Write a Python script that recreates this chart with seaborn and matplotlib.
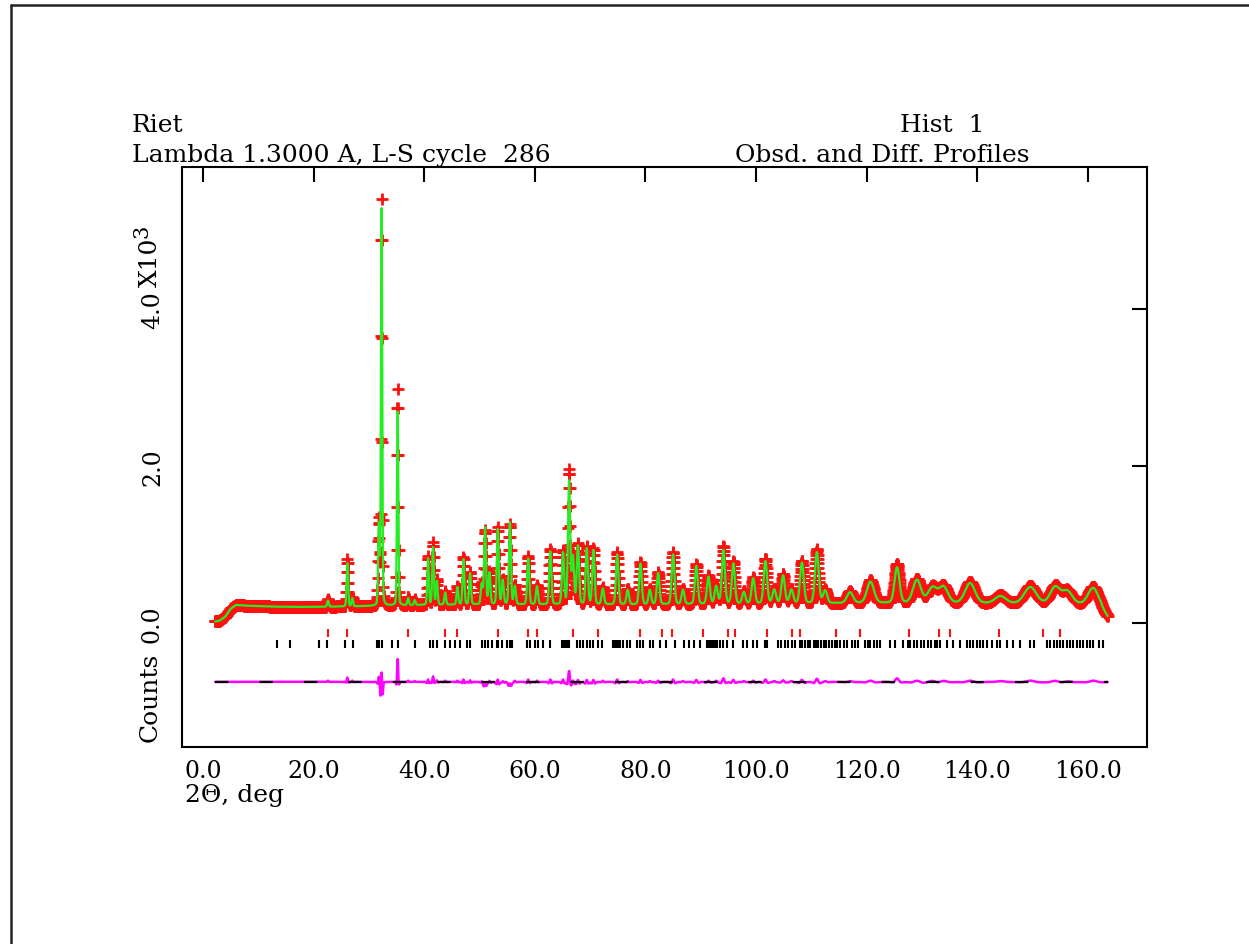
import numpy as np
import pandas as pd
import matplotlib
matplotlib.use("Agg")
import matplotlib.pyplot as plt
import seaborn as sns

# ---------------------------------------------------------------------------
# Histogram 1 : observed / calculated powder profile (counts vs 2-theta)
# ---------------------------------------------------------------------------

# Background level (2-theta in deg, counts)
bg_tth = [2.2, 3.0, 4.0, 5.0, 6.0, 8.0, 12.0, 16.0, 20.0, 25.0, 30.0, 40.0,
          50.0, 60.0, 70.0, 80.0, 90.0, 100.0, 110.0, 120.0, 130.0, 140.0,
          150.0, 160.0, 162.3, 163.6]
bg_cts = [20, 30, 80, 180, 230, 220, 210, 205, 205, 210, 215, 230,
          235, 235, 235, 235, 240, 245, 250, 255, 255, 250,
          245, 240, 200, 80]

# Reflections: position, observed and calculated top counts, FWHM (deg)
peak_tth = [22.6, 26.1, 27.0, 31.8, 32.3, 35.2, 37.1, 38.3, 40.7, 41.6,
            42.3, 43.8, 46.0, 47.1, 48.3, 50.4, 51.0, 51.8, 53.3, 54.2,
            55.5, 56.4, 58.8, 60.4, 62.8, 65.1, 66.2, 66.9, 67.8, 69.4,
            70.6, 72.3, 74.9, 76.8, 79.1, 80.8, 82.3, 85.0, 86.8, 89.2,
            91.4, 92.8, 94.1, 95.9, 97.8, 99.5, 101.7, 103.3, 104.9, 106.4,
            108.3, 111.0, 112.5, 117.0, 120.7, 125.5, 129.1, 131.9, 133.9,
            138.7, 144.2, 149.6, 154.1, 156.3, 161.0]
peak_obs = [300, 815, 330, 1300, 5390, 2980, 330, 300, 850, 1030,
            550, 400, 470, 840, 650, 500, 1180, 650, 1220, 550,
            1260, 480, 850, 480, 940, 920, 1940, 850, 1000, 970,
            950, 450, 900, 430, 780, 430, 650, 900, 430, 750,
            600, 480, 970, 780, 400, 580, 815, 430, 620, 430,
            790, 940, 420, 400, 540, 750, 560, 460, 470,
            520, 350, 470, 470, 410, 460]
peak_calc = [285, 760, 315, 1230, 5270, 2690, 315, 290, 820, 960,
             530, 385, 455, 810, 630, 490, 1210, 635, 1190, 540,
             1280, 465, 820, 465, 910, 890, 1800, 830, 975, 945,
             925, 435, 870, 420, 755, 420, 635, 870, 420, 725,
             585, 465, 925, 755, 390, 565, 785, 420, 600, 420,
             765, 900, 410, 390, 525, 705, 545, 445, 455,
             505, 340, 455, 455, 400, 445]
peak_fwhm = [0.30, 0.30, 0.30, 0.30, 0.26, 0.28, 0.30, 0.30, 0.32, 0.32,
             0.32, 0.34, 0.34, 0.36, 0.36, 0.38, 0.38, 0.38, 0.38, 0.40,
             0.40, 0.40, 0.42, 0.42, 0.44, 0.44, 0.44, 0.44, 0.46, 0.46,
             0.46, 0.48, 0.50, 0.50, 0.52, 0.52, 0.54, 0.56, 0.56, 0.58,
             0.60, 0.60, 0.62, 0.62, 0.64, 0.66, 0.68, 0.70, 0.70, 0.72,
             0.74, 0.76, 0.80, 1.2, 1.4, 1.0, 1.6, 1.8, 1.8,
             2.0, 2.2, 2.4, 2.0, 2.0, 2.0]

# Reflection markers for the two phases (2-theta, deg)
phase1_tth = [22.6, 26.1, 37.1, 43.8, 46.0, 53.3, 58.8, 60.4, 66.9, 71.5,
              79.1, 83.0, 84.8, 90.5, 95.0, 96.2, 102.0, 106.5, 108.0, 114.4,
              118.8, 127.7, 133.1, 135.1, 144.0, 151.9, 155.0]
phase2_tth = [13.3, 15.7, 20.9, 22.4, 25.7, 27.2, 31.4, 31.9, 32.4, 34.1,
              35.3, 38.3, 41.0, 41.6, 42.3, 43.8, 44.7, 45.6, 46.5, 47.7,
              48.3, 50.4, 51.0, 51.6, 52.2, 53.1, 53.4, 54.0, 54.9, 55.5,
              55.8, 58.5, 59.1, 60.0, 60.6, 61.5, 62.7, 64.9, 65.2, 65.5,
              65.8, 66.1, 67.6, 68.2, 68.8, 69.4, 70.0, 70.6, 71.5, 72.1,
              74.2, 74.5, 74.8, 75.1, 75.4, 76.0, 76.6, 77.2, 78.4, 79.0,
              79.6, 80.8, 81.4, 82.6, 83.8, 85.4, 86.9, 87.8, 88.7, 89.9,
              91.1, 91.4, 91.7, 92.0, 92.3, 92.6, 92.9, 93.5, 94.1, 94.7,
              95.9, 97.7, 98.3, 99.5, 100.1, 101.6, 101.9, 104.0, 104.6, 105.2,
              105.8, 106.5, 107.1, 108.0, 108.4, 108.9, 109.4, 109.8, 110.4, 110.9,
              111.3, 111.8, 112.3, 112.7, 113.2, 113.7, 114.2, 114.7, 115.2, 116.0,
              116.4, 117.3, 117.9, 118.5, 119.7, 120.2, 120.7, 121.3, 121.8, 122.4,
              124.2, 125.1, 126.6, 127.4, 127.9, 128.5, 129.2, 129.8, 130.4, 131.1,
              131.7, 132.3, 132.8, 133.3, 134.5, 135.7, 136.9, 138.1, 138.7, 139.3,
              139.9, 140.5, 141.1, 141.7, 142.6, 143.5, 144.1, 145.3, 146.5, 147.7,
              149.6, 150.2, 152.6, 153.2, 153.8, 154.4, 155.0, 155.6, 156.2, 156.8,
              157.4, 158.0, 158.6, 159.2, 159.8, 160.4, 161.0, 162.0, 162.8]

# ---------------------------------------------------------------------------
# Profile construction on the measurement grid
# ---------------------------------------------------------------------------
STEP = 0.05
CALC_WIDTH = 1.06          # refined peak widths come out slightly broader
tth = np.arange(2.2, 163.6 + STEP / 2, STEP)
background = np.interp(tth, bg_tth, bg_cts)


def profile(tops, width_scale=1.0):
    """Sum of pseudo-Voigt reflections on top of the background."""
    y = background.copy()
    for pos, top, fw in zip(peak_tth, tops, peak_fwhm):
        amp = top - np.interp(pos, bg_tth, bg_cts)
        d = (tth - pos) / (fw * width_scale / 2.0)
        gauss = np.exp(-np.log(2.0) * d ** 2)
        lorentz = 1.0 / (1.0 + d ** 2)
        y += amp * (0.85 * gauss + 0.15 * lorentz)
    return y


obs = profile(peak_obs)
calc = profile(peak_calc, CALC_WIDTH)

DIFF_OFFSET = -750.0
df = pd.DataFrame({
    "tth": tth,
    "obs": obs / 1000.0,
    "calc": calc / 1000.0,
    "diff": (obs - calc + DIFF_OFFSET) / 1000.0,
})

# ---------------------------------------------------------------------------
# Figure
# ---------------------------------------------------------------------------
sns.set_theme(style="white")
plt.rcParams["font.family"] = ["DejaVu Serif"]
FS = 18        # header / caption text
FS_TICK = 17   # tick labels

W, H = 1249, 945
fig = plt.figure(figsize=(W / 100, H / 100), dpi=100)
fig.patch.set_facecolor("white")

L, R, T, B = 182, 1147, 168, 748
ax = fig.add_axes([L / W, 1 - B / H, (R - L) / W, (B - T) / H])
ax.set_facecolor("white")

x0_px, px_per_deg = 203.0, 5.53
ax.set_xlim((L - x0_px) / px_per_deg, (R - x0_px) / px_per_deg)
ax.set_ylim(-1.58, 5.81)

RED = "#ff1010"
GREEN = "#22ee22"
MAGENTA = "#ff00ff"

sns.scatterplot(data=df, x="tth", y="obs", ax=ax, marker="+", s=75,
                color=RED, linewidth=2.0, legend=False, zorder=2)
sns.lineplot(data=df, x="tth", y="calc", ax=ax, color=GREEN, lw=1.6,
             estimator=None, sort=False, legend=False, zorder=3)

# Difference curve and its zero reference line
ax.plot([tth[0], tth[-1]], [DIFF_OFFSET / 1000.0] * 2, color="black",
        lw=1.6, zorder=4, dashes=(6, 14))
sns.lineplot(data=df, x="tth", y="diff", ax=ax, color=MAGENTA, lw=1.8,
             estimator=None, sort=False, legend=False, zorder=3)

# Reflection position markers
ax.vlines(phase1_tth, -0.178, -0.076, color=RED, lw=1.5, zorder=3)
ax.vlines(phase2_tth, -0.318, -0.213, color="black", lw=1.5, zorder=3)

# Axes frame and ticks
for sp in ax.spines.values():
    sp.set_visible(True)
    sp.set_color("black")
    sp.set_linewidth(1.5)

xt = [0, 20, 40, 60, 80, 100, 120, 140, 160]
yt = [0.0, 2.0, 4.0]
ax.set_xticks(xt)
ax.set_xticklabels([f"{v:.1f}" for v in xt], fontsize=FS_TICK)
ax.set_yticks(yt)
ax.set_yticklabels([f"{v:.1f}" for v in yt], fontsize=FS_TICK, rotation=90,
                   va="center")
ax.tick_params(axis="both", direction="in", length=11, width=1.5,
               top=True, right=True, colors="black")
ax.tick_params(axis="x", pad=9)
ax.tick_params(axis="y", pad=13)
ax.set_xlabel("")
ax.set_ylabel("")


def fig_text(xp, yp, s, size=FS, **kw):
    fig.text(xp / W, 1 - yp / H, s, fontsize=size, color="black", **kw)


# Header lines
fig_text(132, 132, "Riet", ha="left", va="baseline")
fig_text(132, 162, "Lambda 1.3000 A, L-S cycle  286", ha="left", va="baseline")
fig_text(900, 132, "Hist  1", ha="left", va="baseline")
fig_text(735, 162, "Obsd. and Diff. Profiles", ha="left", va="baseline")

# Axis captions
fig_text(185, 802, "2\u0398, deg", ha="left", va="baseline")
fig_text(150, 697, "Counts", ha="center", va="center", rotation=90)
fig_text(150, 262, "X10", ha="center", va="center", rotation=90)
fig_text(142, 231, "3", size=FS - 3, ha="center", va="center", rotation=90)

# Page frame lines
fig.add_artist(plt.Line2D([11 / W, 11 / W], [0, 1 - 6 / H], color="#222222",
                          lw=1.8, transform=fig.transFigure))
fig.add_artist(plt.Line2D([11 / W, 1], [1 - 6 / H, 1 - 6 / H], color="#222222",
                          lw=1.8, transform=fig.transFigure))

fig.savefig("out.png", dpi=100, facecolor="white")
